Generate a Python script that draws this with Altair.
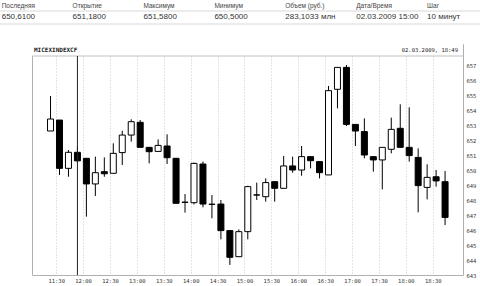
import altair as alt
import pandas as pd

# ---- data ----
times = ["11:20", "11:30", "11:40", "11:50", "12:00", "12:10", "12:20", "12:30", "12:40", "12:50",
         "13:00", "13:10", "13:20", "13:30", "13:40", "13:50", "14:00", "14:10", "14:20", "14:30",
         "14:40", "14:50", "15:00", "15:10", "15:20", "15:30", "15:40", "15:50", "16:00", "16:10",
         "16:20", "16:30", "16:40", "16:50", "17:00", "17:10", "17:20", "17:30", "17:40", "17:50",
         "18:00", "18:10", "18:20", "18:30", "18:40"]
opens = [652.60, 653.33, 650.11, 651.18, 650.78, 649.07, 649.89, 649.78, 651.16, 652.33,
         653.18, 651.51, 651.24, 651.60, 650.78, 647.86, 647.82, 650.40, 647.72, 647.73,
         645.96, 644.22, 645.89, 648.34, 648.22, 649.22, 648.78, 650.27, 650.00, 650.89,
         650.56, 649.67, 655.38, 656.84, 653.04, 652.56, 650.89, 650.67, 651.38, 652.78,
         651.51, 650.84, 648.84, 649.55, 649.22]
highs = [654.93, 653.33, 651.33, 651.58, 650.80, 650.89, 650.84, 651.78, 652.62, 653.38,
         653.33, 651.51, 652.04, 652.38, 650.78, 648.40, 650.50, 650.56, 648.33, 648.00,
         645.96, 646.04, 648.95, 649.16, 649.44, 649.22, 650.93, 650.89, 651.60, 650.89,
         650.56, 655.60, 656.84, 657.00, 653.04, 653.44, 650.90, 651.51, 653.49, 654.38,
         654.18, 651.44, 650.38, 650.00, 649.93]
lows = [652.60, 649.67, 649.55, 650.50, 646.89, 648.27, 649.55, 649.78, 650.33, 651.89,
        651.51, 650.44, 651.20, 650.40, 647.78, 647.16, 647.70, 647.51, 646.78, 645.38,
        643.67, 644.20, 645.38, 648.00, 647.89, 647.89, 648.78, 649.82, 649.62, 650.11,
        649.44, 649.67, 654.11, 652.93, 651.60, 650.78, 649.89, 648.71, 651.11, 651.51,
        650.56, 647.18, 648.04, 648.89, 646.33]
closes = [653.40, 650.11, 651.18, 650.61, 649.07, 649.82, 649.75, 651.11, 652.33, 653.22,
          651.51, 651.22, 651.64, 650.82, 647.78, 647.84, 650.44, 647.73, 647.71, 645.96,
          644.18, 645.89, 648.89, 648.33, 649.16, 648.78, 650.27, 650.00, 650.89, 650.62,
          649.82, 655.29, 656.84, 653.04, 652.60, 651.00, 650.67, 651.51, 652.71, 651.51,
          650.96, 648.96, 649.51, 649.27, 646.84]

y_ticks = [643, 644, 645, 646, 647, 648, 649, 650, 651, 652, 653, 654, 655, 656, 657]
x_tick_labels = ["11:30", "12:00", "12:30", "13:00", "13:30", "14:00", "14:30", "15:00",
                 "15:30", "16:00", "16:30", "17:00", "17:30", "18:00", "18:30"]
cursor_time = ["11:50"]

header_names = ["Последняя", "Открытие", "Максимум", "Минимум", "Объем (руб.)", "Дата/Время", "Шаг"]
header_values = ["650,6100", "651,1800", "651,5800", "650,5000", "283,1033 млн", "02.03.2009 15:00", "10 минут"]
instrument = "MICEXINDEXCF"
stamp = "02.03.2009, 18:49"


def to_min(s):
    h, m = s.split(":")
    return int(h) * 60 + int(m)


df = pd.DataFrame({"time": times, "open": opens, "high": highs, "low": lows, "close": closes})
df["t"] = df["time"].map(to_min)
df["up"] = df["close"] >= df["open"]

tick_vals = [to_min(s) for s in x_tick_labels]

W, H = 431, 231
xscale = alt.Scale(domain=[668.6, 1138.1], nice=False, zero=False)
yscale = alt.Scale(domain=[643, 658.4], nice=False, zero=False)

FONT = "DejaVu Sans Mono"
OFF = 3.3

xaxis = alt.Axis(values=tick_vals, title=None, grid=True, gridColor="#c8c8c8", gridDash=[1, 2],
                 ticks=False, domain=False, labelFont=FONT, labelFontSize=5.5, labelColor="#333",
                 labelPadding=3, labelOverlap=False, labelBound=False, labelFlush=False,
                 labelExpr="floor(datum.value/60) + ':' + (datum.value % 60 == 0 ? '00' : '30')")
yaxis = alt.Axis(values=y_ticks, orient="right", title=None, grid=False, ticks=False, domain=False,
                 labelFont=FONT, labelFontSize=5.5, labelColor="#333", labelPadding=3,
                 labelOverlap=False, labelBound=False, labelFlush=False)

base = alt.Chart(df)

wicks = base.mark_rule(color="black", strokeWidth=1, xOffset=OFF).encode(
    x=alt.X("t:Q", scale=xscale, axis=xaxis),
    y=alt.Y("low:Q", scale=yscale, axis=yaxis),
    y2="high:Q",
)

bodies = base.mark_bar(size=6, stroke="black", strokeWidth=1, xOffset=OFF).encode(
    x=alt.X("t:Q", scale=xscale, axis=xaxis),
    y=alt.Y("open:Q", scale=yscale, axis=yaxis),
    y2="close:Q",
    fill=alt.condition("datum.up", alt.value("white"), alt.value("black")),
)

band = alt.Chart(pd.DataFrame({"a": [0]})).mark_rect(fill="white").encode(
    x=alt.value(0), x2=alt.value(W), y=alt.value(0), y2=alt.value(12))
band_line = alt.Chart(pd.DataFrame({"a": [0]})).mark_rule(color="#c0c0c0", strokeWidth=1).encode(
    x=alt.value(0), x2=alt.value(W), y=alt.value(12))

cursor = alt.Chart(pd.DataFrame({"t": [to_min(s) for s in cursor_time]})).mark_rule(
    color="#222", strokeWidth=1, xOffset=OFF).encode(
    x=alt.X("t:Q", scale=xscale, axis=xaxis), y=alt.value(12), y2=alt.value(H))

title_l = alt.Chart(pd.DataFrame({"s": [instrument]})).mark_text(
    font=FONT, fontSize=6, fontWeight="bold", align="left", baseline="middle", color="#222").encode(
    x=alt.value(2), y=alt.value(5.5), text="s:N")
title_r = alt.Chart(pd.DataFrame({"s": [stamp]})).mark_text(
    font=FONT, fontSize=5.5, align="right", baseline="middle", color="#222").encode(
    x=alt.value(W - 5), y=alt.value(5.5), text="s:N")

hdr = pd.DataFrame({"name": header_names, "val": header_values, "i": list(range(len(header_names)))})
hdr["px"] = hdr["i"] * 70.9 - 30.3

hdr_names = alt.Chart(hdr).mark_text(
    font="Liberation Sans", fontSize=6.5, align="left", baseline="middle", color="#444").encode(
    x=alt.X("px:Q", scale=None), y=alt.value(-38.5), text="name:N")
hdr_vals = alt.Chart(hdr).mark_text(
    font="Liberation Sans", fontSize=8, align="left", baseline="middle", color="#333").encode(
    x=alt.X("px:Q", scale=None), y=alt.value(-27.5), text="val:N")
hdr_line1 = alt.Chart(pd.DataFrame({"a": [0]})).mark_rule(color="#d8d8d8", strokeWidth=1).encode(
    x=alt.value(-32), x2=alt.value(448), y=alt.value(-33))
hdr_line2 = alt.Chart(pd.DataFrame({"a": [0]})).mark_rule(color="#d8d8d8", strokeWidth=1).encode(
    x=alt.value(-32), x2=alt.value(448), y=alt.value(-20))

chart = alt.layer(
    wicks, bodies, band, band_line, cursor, title_l, title_r,
    hdr_line1, hdr_line2, hdr_names, hdr_vals,
).properties(
    width=W, height=H,
    autosize=alt.AutoSizeParams(type="none"),
    padding={"left": 32, "top": 44, "right": 17, "bottom": 11},
    background="white",
).configure_view(stroke="#b0b0b0", strokeWidth=1).configure_axis(labelOverlap=False)

chart.save("out.html", embed_options={"renderer": "svg", "actions": False})
